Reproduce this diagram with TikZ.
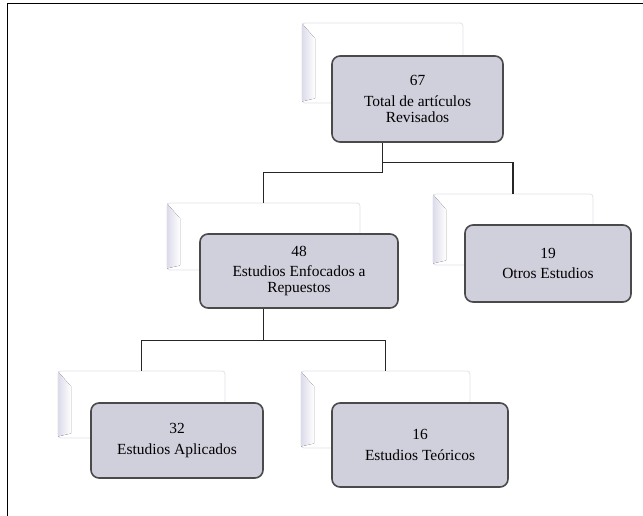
\documentclass[tikz,border=0pt]{standalone}
\usepackage{fontspec}
\setmainfont{Liberation Serif}
\definecolor{boxfill}{HTML}{D0CFDC}
\definecolor{boxline}{HTML}{4A4A4A}
\definecolor{bevel}{HTML}{DCDBEA}
\definecolor{backline}{HTML}{E2E2E8}

\begin{document}
\begin{tikzpicture}[
    x=1bp, y=-1bp,
    backbox/.style={
        draw=backline,
        fill=white,
        rounded corners=3bp,
        line width=0.8bp
    },
    box/.style={
        draw=boxline,
        fill=boxfill,
        rounded corners=8bp,
        line width=1.6bp,
        align=center,
        inner sep=2bp,
        font=\fontsize{15.5}{16.5}\selectfont
    },
    link/.style={draw=black!85, line width=1.5bp}
]
\useasboundingbox (0,0) rectangle (643,516);

% frame
\draw[line width=1.5bp] (643,3.5) -- (7.5,3.5) -- (7.5,516);

% back boxes
\node[backbox, minimum width=161bp, minimum height=80bp] (tot-back) at (382.5,63) {};
\node[backbox, minimum width=193bp, minimum height=67bp] (enf-back) at (263.5,236.5) {};
\node[backbox, minimum width=160bp, minimum height=71bp] (otros-back) at (513,229.5) {};
\node[backbox, minimum width=167bp, minimum height=67bp] (apl-back) at (141.5,404.5) {};
\node[backbox, minimum width=169bp, minimum height=77bp] (teo-back) at (385.5,409.5) {};

\foreach \b in {tot-back, enf-back, otros-back, apl-back, teo-back}
    \fill[left color=bevel, right color=white]
        ([xshift=0.5bp, yshift=-1bp]\b.north west) -- ++(13,15)
        -- ([xshift=13.5bp, yshift=5bp]\b.south west)
        -- ([xshift=0.5bp, yshift=2bp]\b.south west) -- cycle;

% connectors
\draw[link] (tot-back.south) -- ++(0,69) -| (enf-back.north);
\draw[link] (tot-back.south) -- ++(0,59) -| (otros-back.north);
\draw[link] (enf-back.south) -- ++(0,70) -| (apl-back.north);
\draw[link] (enf-back.south) -- ++(0,70) -| (teo-back.north);

% front boxes
\node[box, minimum width=171bp, minimum height=86bp] (tot) at (417.5,99) {67\\[4bp]Total de artículos\\Revisados};
\node[box, minimum width=198bp, minimum height=74bp] (enf) at (299,271) {48\\[4bp]Estudios Enfocados a\\Repuestos};
\node[box, minimum width=166bp, minimum height=77bp] (otros) at (548,263.5) {19\\[4bp]Otros Estudios};
\node[box, minimum width=172bp, minimum height=75bp] (apl) at (177,440.5) {32\\[4bp]Estudios Aplicados};
\node[box, minimum width=176bp, minimum height=84bp] (teo) at (420,445) {16\\[4bp]Estudios Teóricos};

\end{tikzpicture}
\end{document}
